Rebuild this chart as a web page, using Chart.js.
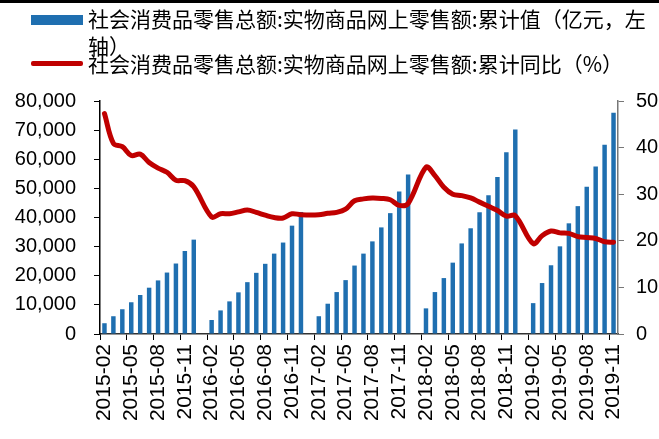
<!DOCTYPE html>
<html>
<head>
<meta charset="utf-8">
<script src="https://cdn.jsdelivr.net/npm/chart.js@4.4.1/dist/chart.umd.min.js"></script>
<style>
  html, body { margin: 0; padding: 0; background: #fff; }
  #wrap { position: relative; width: 659px; height: 439px; overflow: hidden; background: #fff; }
  #topbar { position: absolute; left: 0; top: 0; width: 659px; height: 3px; background: #000; }
  canvas { position: absolute; left: 0; top: 0; }
  .lg { position: absolute; font-family: "Noto Sans CJK SC", sans-serif; font-size: 21px; color: #000; white-space: nowrap; line-height: 27px; }
  .sw { position: absolute; }
</style>
</head>
<body>
<div id="wrap">
  <canvas id="c" width="659" height="439"></canvas>
  <div id="topbar"></div>
  <div class="sw" style="left:31px;top:15px;width:52px;height:10px;background:#1F6FB0;"></div>
  <div class="lg" style="left:88px;top:5px;">社会消费品零售总额:实物商品网上零售额:累计值（亿元，左<br>轴）</div>
  <div class="sw" style="left:31px;top:61px;width:52px;height:5px;background:#C00000;border-radius:2px;"></div>
  <div class="lg" style="left:88px;top:50px;">社会消费品零售总额:实物商品网上零售额:累计同比（%）</div>
</div>
<script>
// ---- data ----
const years = ['2015', '2016', '2017', '2018', '2019'];
// cumulative value, 100 million yuan (Feb..Dec; 2019 Feb..Nov)
const value2015 = [3700, 6100, 8500, 10900, 13400, 15900, 18400, 21100, 24200, 28500, 32400];
const value2016 = [4800, 8100, 11200, 14300, 17800, 21000, 24100, 27600, 31400, 37200, 41900];
const value2017 = [6100, 10400, 14400, 18500, 23500, 27600, 31800, 36600, 41500, 48900, 54800];
const value2018 = [8800, 14400, 19200, 24500, 31100, 36300, 41800, 47600, 53900, 62400, 70200];
const value2019 = [10600, 17500, 23600, 30100, 38000, 43900, 50600, 57500, 65000, 76000];
// cumulative YoY, %
const yoy2015 = [47.3, 40.9, 40.2, 38.3, 38.6, 36.8, 35.6, 34.7, 33.0, 32.9, 31.6];
const yoy2016 = [25.1, 25.8, 25.8, 26.2, 26.6, 26.1, 25.5, 25.0, 24.9, 25.8, 25.6];
const yoy2017 = [25.6, 25.9, 26.1, 26.8, 28.6, 29.0, 29.2, 29.1, 28.8, 27.6, 28.0];
const yoy2018 = [35.8, 34.0, 31.5, 30.0, 29.7, 29.2, 28.3, 27.4, 26.5, 25.3, 25.4];
const yoy2019 = [19.4, 21.1, 22.1, 21.7, 21.6, 20.9, 20.7, 20.5, 19.8, 19.7];
const leftTicks = [0, 10000, 20000, 30000, 40000, 50000, 60000, 70000, 80000];
const rightTicks = [0, 10, 20, 30, 40, 50];

const valueByYear = [value2015, value2016, value2017, value2018, value2019];
const yoyByYear = [yoy2015, yoy2016, yoy2017, yoy2018, yoy2019];

// categories: 2015-02 .. 2019-11, January kept as an empty slot
const categories = [], barData = [], lineData = [];
years.forEach((y, yi) => {
  const first = yi === 0 ? 2 : 1;
  const last = yi === years.length - 1 ? 11 : 12;
  for (let m = first; m <= last; m++) {
    categories.push(y + '-' + String(m).padStart(2, '0'));
    if (m === 1) { barData.push(null); lineData.push(null); }
    else { barData.push(valueByYear[yi][m - 2]); lineData.push(yoyByYear[yi][m - 2]); }
  }
});

const W = 659, H = 439;
const plotLeft = 100, plotRight = 618, plotTop = 101, plotBottom = 334;
const tickFont = { family: '"Liberation Sans", Arial, sans-serif', size: 20 };
const xTickFont = { family: '"Liberation Sans", Arial, sans-serif', size: 21 };

new Chart(document.getElementById('c'), {
  data: {
    labels: categories,
    datasets: [
      {
        type: 'line', yAxisID: 'y1', data: lineData, order: 0,
        borderColor: '#C00000', borderWidth: 5, pointRadius: 0,
        tension: 0.35, spanGaps: true, borderCapStyle: 'round', borderJoinStyle: 'round'
      },
      {
        type: 'bar', yAxisID: 'y', data: barData, order: 1,
        backgroundColor: '#1F6FB0', barPercentage: 0.5, categoryPercentage: 1.0
      }
    ]
  },
  options: {
    responsive: false, animation: false, devicePixelRatio: 1,
    layout: { padding: { top: plotTop, left: 0, right: 0, bottom: 0 } },
    plugins: { legend: { display: false }, tooltip: { enabled: false } },
    scales: {
      x: {
        offset: true,
        grid: {
          display: true, drawOnChartArea: false, drawTicks: true, tickLength: 6, offset: true,
          tickColor: (ctx) => (ctx.index % 3 === 0 ? '#000' : 'rgba(0,0,0,0)')
        },
        border: { display: true, color: '#333', width: 1.5 },
        ticks: {
          autoSkip: false, maxRotation: 90, minRotation: 90, padding: 4,
          color: '#000', font: xTickFont,
          callback: function (v, i) { return i % 3 === 0 ? categories[i] : ''; }
        },
        afterFit: (s) => { s.height = H - plotBottom; }
      },
      y: {
        position: 'left', min: 0, max: 80000,
        afterBuildTicks: (s) => { s.ticks = leftTicks.map(v => ({ value: v })); },
        grid: { display: true, drawOnChartArea: false, drawTicks: true, tickLength: 6, color: '#000' },
        border: { display: true, color: '#000', width: 1.5 },
        ticks: { color: '#000', font: tickFont, padding: 18,
          callback: (v) => Number(v).toLocaleString('en-US') },
        afterFit: (s) => { s.width = plotLeft; }
      },
      y1: {
        position: 'right', min: 0, max: 50,
        afterBuildTicks: (s) => { s.ticks = rightTicks.map(v => ({ value: v })); },
        grid: { display: true, drawOnChartArea: false, drawTicks: true, tickLength: 6, color: '#777' },
        border: { display: true, color: '#777', width: 1.5 },
        ticks: { color: '#000', font: tickFont, padding: 12 },
        afterFit: (s) => { s.width = W - plotRight; }
      }
    }
  }
});
</script>
</body>
</html>
